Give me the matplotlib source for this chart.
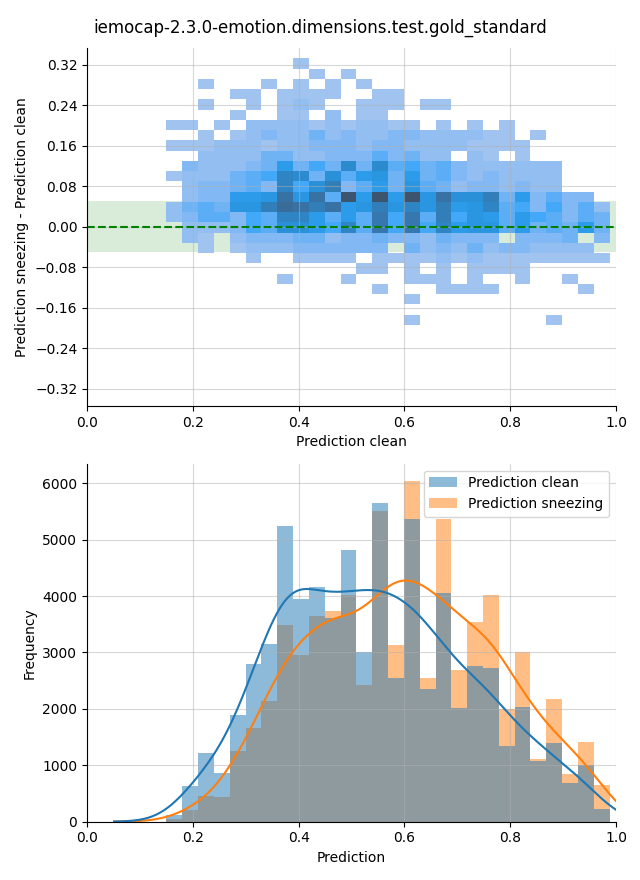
import numpy as np
import matplotlib
matplotlib.use("Agg")
import matplotlib.pyplot as plt
import seaborn as sns

title = "iemocap-2.3.0-emotion.dimensions.test.gold_standard"

# shared prediction bins (28 bins)
bin_edges = np.linspace(0.150, 0.988, 29)
bin_centers = (bin_edges[:-1] + bin_edges[1:]) / 2

# histogram counts
clean_counts = [110, 633, 1213, 870, 1893, 2799, 3154, 5248, 3953, 4166,
                3604, 4822, 3012, 5651, 2556, 5373, 2355, 4059, 2018, 2763,
                2728, 1343, 2035, 1077, 1396, 680, 1006, 225]
sneezing_counts = [50, 207, 456, 438, 1254, 1669, 2148, 3479, 2947, 3639,
                   3740, 4024, 2426, 5515, 3136, 6047, 2544, 5373, 2692, 3544,
                   4024, 1994, 3006, 1112, 2177, 846, 1414, 651]

# difference bins (rows listed top to bottom)
diff_edges = np.linspace(-0.194, 0.3326, 27)
diff_counts = [
    [0,0,0,0,0,0,0,0,1,0,0,0,0,0,0,0,0,0,0,0,0,0,0,0,0,0,0,0],
    [0,0,0,0,0,0,0,0,0,1,0,1,0,0,0,0,0,0,0,0,0,0,0,0,0,0,0,0],
    [0,0,1,0,0,0,1,0,1,0,1,0,1,0,0,0,0,0,0,0,0,0,0,0,0,0,0,0],
    [0,0,0,0,1,1,0,1,1,1,1,0,0,1,1,0,0,0,0,0,0,0,0,0,0,0,0,0],
    [0,0,1,0,0,1,0,1,2,1,0,0,1,1,1,0,1,1,0,0,0,0,0,0,0,0,0,0],
    [0,0,0,0,1,0,0,1,1,0,2,0,1,1,0,0,0,0,0,0,0,0,0,0,0,0,0,0],
    [1,1,0,1,0,2,2,2,2,1,2,1,2,2,1,1,0,1,0,1,0,1,0,0,0,0,0,0],
    [0,0,1,0,1,2,3,2,2,4,2,3,2,2,3,3,2,2,2,2,1,1,0,1,0,0,0,0],
    [1,1,1,2,2,2,1,2,2,3,3,3,2,3,3,2,2,2,2,1,1,1,1,0,0,0,0,0],
    [0,0,2,2,2,2,4,4,2,2,3,3,3,5,3,4,2,2,0,2,1,0,1,0,0,0,0,0],
    [0,3,2,2,2,3,4,8,4,6,4,11,4,11,5,6,4,5,3,2,2,2,2,2,2,0,0,0],
    [1,2,2,2,4,5,6,12,11,4,10,5,8,9,4,8,4,5,3,2,3,2,2,2,2,0,0,0],
    [0,2,3,3,4,5,3,12,6,10,13,3,5,8,4,9,5,4,2,3,3,2,3,2,2,0,0,0],
    [0,2,3,3,8,8,9,15,9,15,5,20,8,20,8,20,9,15,10,10,13,4,8,3,5,3,3,0],
    [2,4,5,4,9,9,13,16,15,13,15,8,9,13,9,12,9,13,8,9,12,5,6,3,6,3,5,2],
    [2,3,5,5,3,6,5,12,12,8,5,8,5,14,6,14,5,13,6,9,8,5,8,6,5,3,5,4],
    [0,2,2,2,3,6,5,10,10,8,6,12,5,14,6,14,6,12,8,9,9,5,8,4,5,4,8,4],
    [0,2,1,0,2,3,3,3,4,4,2,3,3,4,3,3,2,4,3,3,3,0,3,3,3,4,0,3],
    [0,0,1,0,1,2,2,2,3,3,3,3,3,3,0,4,2,3,2,4,2,3,3,2,2,2,2,0],
    [0,0,0,0,0,1,0,0,1,1,1,1,0,1,1,1,1,2,1,2,1,1,1,1,1,1,1,1],
    [0,0,0,0,0,0,0,0,0,0,0,0,1,1,0,1,0,1,0,1,1,1,1,0,0,0,0,0],
    [0,0,0,0,0,0,0,1,0,0,0,1,0,0,0,1,1,1,0,1,0,0,1,0,0,1,0,0],
    [0,0,0,0,0,0,0,0,0,0,0,0,0,1,0,0,0,1,1,1,1,0,0,0,0,0,1,0],
    [0,0,0,0,0,0,0,0,0,0,0,0,0,0,0,1,0,0,0,0,0,0,0,0,0,0,0,0],
    [0,0,0,0,0,0,0,0,0,0,0,0,0,0,0,0,0,0,0,0,0,0,0,0,0,0,0,0],
    [0,0,0,0,0,0,0,0,0,0,0,0,0,0,0,1,0,0,0,0,0,0,0,0,1,0,0,0],
]

# flatten the grid into (x, y, weight) for seaborn
grid = np.array(diff_counts)[::-1]   # bottom row first
diff_centers = (diff_edges[:-1] + diff_edges[1:]) / 2
yy, xx = np.nonzero(grid)
hx = bin_centers[xx]
hy = diff_centers[yy]
hw = grid[yy, xx]

fig, (ax1, ax2) = plt.subplots(2, 1, figsize=(6.4, 8.8))
fig.subplots_adjust(left=0.136, right=0.9625, top=0.9455, bottom=0.0663, hspace=0.161)
fig.suptitle(title, fontsize=12, y=0.979)

# top: difference vs clean prediction
ax1.axhspan(-0.05, 0.05, color="green", alpha=0.15, lw=0)
sns.histplot(x=hx, y=hy, weights=hw, bins=[bin_edges, diff_edges], color="C0", ax=ax1)
ax1.axhline(0, color="green", linestyle="--", lw=1.5)
ax1.set_xlim(0, 1)
ax1.set_ylim(-0.354, 0.353)
ax1.set_yticks(np.linspace(-0.32, 0.32, 9))
ax1.set_xlabel("Prediction clean")
ax1.set_ylabel("Prediction sneezing - Prediction clean")
ax1.grid(True, alpha=0.5)

# bottom: both distributions (sneezing underneath, clean on top)
kde_opts = {"bw_adjust": 0.45, "cut": 2}
sns.histplot(x=bin_centers, weights=sneezing_counts, bins=bin_edges.tolist(), kde=True,
             kde_kws=kde_opts, color="C1", linewidth=0,
             label="Prediction sneezing", ax=ax2)
sns.histplot(x=bin_centers, weights=clean_counts, bins=bin_edges.tolist(), kde=True,
             kde_kws=kde_opts, color="C0", linewidth=0,
             label="Prediction clean", ax=ax2)
ax2.set_xlim(0, 1)
ax2.set_xlabel("Prediction")
ax2.set_ylabel("Frequency")
ax2.grid(True, alpha=0.5)
handles, labels = ax2.get_legend_handles_labels()
ax2.legend(handles[::-1], labels[::-1], loc="upper right")

sns.despine(fig=fig)
fig.savefig("out.png", dpi=100)
